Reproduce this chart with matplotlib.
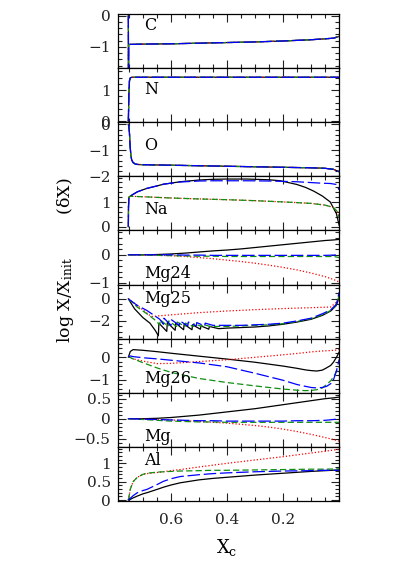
import matplotlib
matplotlib.use("Agg")
import matplotlib.pyplot as plt
from matplotlib.ticker import MultipleLocator, FixedLocator, FuncFormatter

plt.rcParams['font.family'] = ['DejaVu Serif']
plt.rcParams['mathtext.fontset'] = 'dejavuserif'

# ---------------- data ----------------
# C (all models overlap)
xc_C = [0.752, 0.7515, 0.751, 0.70, 0.60, 0.50, 0.40, 0.30, 0.20, 0.10, 0.05, 0.02, 0.0]
C_all = [0.0, -2.0, -0.92, -0.91, -0.90, -0.88, -0.86, -0.84, -0.81, -0.77, -0.74, -0.72, -0.66]

# N
xc_N = [0.752, 0.750, 0.748, 0.745, 0.74, 0.70, 0.50, 0.30, 0.10, 0.0]
N_all = [0.0, 0.9, 1.3, 1.39, 1.41, 1.41, 1.41, 1.41, 1.41, 1.41]

# O
xc_O = [0.752, 0.750, 0.748, 0.746, 0.743, 0.740, 0.735, 0.728, 0.72, 0.70, 0.60,
        0.50, 0.40, 0.30, 0.20, 0.10, 0.05, 0.02, 0.0]
O_all = [0.0, -0.1, -0.35, -0.8, -1.2, -1.38, -1.48, -1.53, -1.55, -1.56, -1.58,
         -1.60, -1.62, -1.64, -1.66, -1.68, -1.70, -1.74, -1.83]

# Na
xc_Na = [0.752, 0.7515, 0.75, 0.745, 0.72, 0.686, 0.65, 0.627, 0.567, 0.50, 0.449,
         0.40, 0.329, 0.25, 0.21, 0.151, 0.12, 0.091, 0.06, 0.032, 0.01, 0.0]
Na_black = [0.0, 0.8, 1.2, 1.25, 1.42, 1.56, 1.66, 1.73, 1.83, 1.90, 1.93,
            1.94, 1.94, 1.91, 1.87, 1.72, 1.60, 1.45, 1.25, 1.01, 0.54, 0.06]
Na_blue = [0.0, 0.8, 1.2, 1.25, 1.42, 1.56, 1.66, 1.73, 1.82, 1.86, 1.87,
           1.87, 1.87, 1.86, 1.85, 1.83, 1.81, 1.79, 1.77, 1.76, 1.72, 1.5]
xc_Na2 = [0.752, 0.7515, 0.75, 0.745, 0.70, 0.60, 0.50, 0.40, 0.30, 0.20, 0.10,
          0.05, 0.02, 0.005, 0.0]
Na_red = [0.0, 0.8, 1.2, 1.24, 1.22, 1.17, 1.13, 1.10, 1.06, 1.01, 0.95,
          0.88, 0.78, 0.6, 0.35]
Na_green = [0.0, 0.8, 1.2, 1.24, 1.22, 1.17, 1.13, 1.10, 1.06, 1.01, 0.95,
            0.88, 0.78, 0.6, 0.35]

# Mg24
xc_Mg24 = [0.752, 0.70, 0.65, 0.60, 0.55, 0.50, 0.45, 0.40, 0.35, 0.30, 0.25,
           0.20, 0.15, 0.10, 0.05, 0.02, 0.0]
Mg24_black = [0.0, 0.0, 0.01, 0.03, 0.06, 0.10, 0.14, 0.17, 0.21, 0.26, 0.31,
              0.36, 0.41, 0.46, 0.51, 0.53, 0.55]
Mg24_red = [0.0, -0.01, -0.02, -0.03, -0.06, -0.10, -0.14, -0.19, -0.24, -0.30, -0.37,
            -0.45, -0.54, -0.65, -0.78, -0.88, -0.97]
Mg24_blue = [0.0, 0.0, 0.0, 0.0, -0.01, -0.01, -0.02, -0.02, -0.02, -0.02, -0.02,
             -0.02, -0.02, -0.02, -0.02, -0.01, 0.0]
Mg24_green = [0.0, -0.01, -0.02, -0.03, -0.04, -0.05, -0.05, -0.06, -0.06, -0.06, -0.06,
              -0.06, -0.06, -0.06, -0.06, -0.06, -0.1]

# Mg25
xc_Mg25_black = [0.752, 0.73, 0.70, 0.675, 0.655, 0.645, 0.643, 0.615, 0.613, 0.585, 0.583,
                 0.555, 0.553, 0.525, 0.523, 0.495, 0.493, 0.465, 0.463, 0.43, 0.40,
                 0.35, 0.30, 0.25, 0.20, 0.15, 0.10, 0.06, 0.03, 0.01, 0.0]
Mg25_black = [0.0, -0.9, -1.7, -2.2, -2.9, -3.35, -2.2, -2.95, -2.15, -2.85, -2.2,
              -2.8, -2.3, -2.8, -2.35, -2.75, -2.45, -2.75, -2.5, -2.7, -2.65,
              -2.6, -2.55, -2.45, -2.3, -2.1, -1.85, -1.5, -1.1, -0.6, 0.2]
xc_Mg25_blue = [0.752, 0.72, 0.686, 0.66, 0.64, 0.627, 0.625, 0.60, 0.598, 0.57, 0.568,
                0.54, 0.538, 0.51, 0.508, 0.48, 0.478, 0.45, 0.40, 0.35, 0.30,
                0.25, 0.20, 0.15, 0.10, 0.06, 0.03, 0.01, 0.0]
Mg25_blue = [0.0, -0.6, -1.05, -1.5, -1.85, -2.3, -1.75, -2.4, -1.9, -2.4, -2.0,
             -2.45, -2.1, -2.45, -2.15, -2.45, -2.2, -2.4, -2.4, -2.4, -2.35,
             -2.3, -2.2, -2.0, -1.75, -1.35, -1.0, -0.5, 0.6]
xc_Mg25_green = [0.752, 0.72, 0.686, 0.66, 0.64, 0.638, 0.61, 0.608, 0.58, 0.578, 0.55,
                 0.548, 0.52, 0.518, 0.49, 0.488, 0.46, 0.40, 0.35, 0.30, 0.25,
                 0.20, 0.15, 0.10, 0.06, 0.03, 0.01, 0.0]
Mg25_green = [0.0, -0.75, -1.35, -1.85, -2.35, -1.9, -2.5, -2.0, -2.5, -2.1, -2.5,
              -2.2, -2.5, -2.25, -2.5, -2.3, -2.5, -2.5, -2.45, -2.4, -2.35,
              -2.25, -2.05, -1.8, -1.45, -1.05, -0.55, 0.3]
xc_Mg25_red = [0.752, 0.72, 0.70, 0.67, 0.60, 0.50, 0.40, 0.30, 0.20, 0.10, 0.03, 0.0]
Mg25_red = [0.0, -0.6, -1.0, -1.6, -1.45, -1.25, -1.1, -0.98, -0.88, -0.8, -0.74, -0.1]

# Mg26
xc_Mg26 = [0.752, 0.745, 0.735, 0.70, 0.65, 0.60, 0.50, 0.40, 0.30, 0.20, 0.15,
           0.12, 0.10, 0.08, 0.06, 0.045, 0.03, 0.02, 0.01, 0.0]
Mg26_black = [0.0, 0.25, 0.33, 0.30, 0.24, 0.17, 0.04, -0.09, -0.23, -0.40, -0.50,
              -0.57, -0.60, -0.62, -0.58, -0.48, -0.37, -0.22, -0.02, 0.22]
Mg26_red = [0.0, -0.03, -0.08, -0.18, -0.29, -0.28, -0.20, -0.12, -0.01, 0.10, 0.16,
            0.20, 0.23, 0.25, 0.27, 0.28, 0.29, 0.30, 0.31, 0.33]
Mg26_blue = [0.0, 0.05, 0.02, -0.03, -0.08, -0.14, -0.26, -0.43, -0.72, -1.03, -1.22,
             -1.30, -1.35, -1.37, -1.35, -1.30, -1.18, -1.0, -0.63, -0.11]
Mg26_green = [0.0, -0.02, -0.08, -0.25, -0.48, -0.68, -0.95, -1.13, -1.28, -1.42, -1.47,
              -1.49, -1.48, -1.45, -1.37, -1.22, -1.05, -0.88, -0.65, -0.41]

# Mg total
xc_Mg = [0.752, 0.70, 0.65, 0.60, 0.55, 0.50, 0.45, 0.40, 0.35, 0.30, 0.25,
         0.20, 0.15, 0.10, 0.05, 0.02, 0.0]
Mg_black = [0.0, 0.0, 0.01, 0.03, 0.06, 0.09, 0.13, 0.17, 0.21, 0.25, 0.30,
            0.35, 0.40, 0.45, 0.50, 0.52, 0.54]
Mg_red = [0.0, -0.01, -0.02, -0.03, -0.05, -0.07, -0.09, -0.11, -0.14, -0.17, -0.21,
          -0.26, -0.32, -0.39, -0.47, -0.52, -0.56]
Mg_blue = [0.0, -0.01, -0.02, -0.03, -0.04, -0.05, -0.05, -0.06, -0.06, -0.06, -0.06,
           -0.06, -0.05, -0.05, -0.04, -0.02, 0.0]
Mg_green = [0.0, -0.02, -0.04, -0.06, -0.07, -0.08, -0.08, -0.09, -0.09, -0.09, -0.09,
            -0.09, -0.09, -0.09, -0.09, -0.09, -0.09]

# Al
xc_Al = [0.752, 0.745, 0.735, 0.72, 0.70, 0.686, 0.65, 0.627, 0.60, 0.567, 0.50,
         0.45, 0.40, 0.30, 0.20, 0.10, 0.05, 0.0]
Al_red = [0.0, 0.3, 0.5, 0.62, 0.70, 0.72, 0.75, 0.77, 0.80, 0.83, 0.90,
          0.95, 1.0, 1.09, 1.18, 1.28, 1.33, 1.38]
Al_green = [0.0, 0.3, 0.5, 0.62, 0.70, 0.73, 0.76, 0.77, 0.78, 0.79, 0.80,
            0.81, 0.81, 0.82, 0.83, 0.84, 0.84, 0.85]
Al_blue = [0.0, 0.05, 0.12, 0.2, 0.26, 0.29, 0.42, 0.51, 0.58, 0.64, 0.69,
           0.72, 0.74, 0.77, 0.79, 0.80, 0.81, 0.81]
Al_black = [0.0, 0.02, 0.06, 0.11, 0.17, 0.20, 0.29, 0.35, 0.41, 0.47, 0.55,
            0.59, 0.62, 0.68, 0.73, 0.78, 0.80, 0.82]

panel_names = ["C", "N", "O", "Na", "Mg24", "Mg25", "Mg26", "Mg", "Al"]
x_ticks_major = [0.6, 0.4, 0.2]
x_tick_labels = ["0.6", "0.4", "0.2"]

# ---------------- styles ----------------
STY = {
    'black': dict(color='black', lw=0.9, ls='-'),
    'red': dict(color='red', lw=0.9, ls=(0, (1, 1.6))),
    'green': dict(color='#109010', lw=0.9, ls=(0, (5, 2.5))),
    'blue': dict(color='blue', lw=0.9, ls=(0, (10, 3))),
}

panels = [
    dict(lines=[('black', xc_C, C_all), ('red', xc_C, C_all), ('green', xc_C, C_all), ('blue', xc_C, C_all)],
         ylim=(-1.68, 0.05), major=[0, -1], minor=0.2, lab=0.78),
    dict(lines=[('black', xc_N, N_all), ('red', xc_N, N_all), ('green', xc_N, N_all), ('blue', xc_N, N_all)],
         ylim=(-0.03, 1.70), major=[0, 1], minor=0.2, lab=0.61),
    dict(lines=[('black', xc_O, O_all), ('red', xc_O, O_all), ('green', xc_O, O_all), ('blue', xc_O, O_all)],
         ylim=(-2.01, 0.08), major=[0, -1, -2], minor=0.2, lab=0.57),
    dict(lines=[('black', xc_Na, Na_black), ('red', xc_Na2, Na_red), ('green', xc_Na2, Na_green), ('blue', xc_Na, Na_blue)],
         ylim=(-0.15, 2.05), major=[0, 1], minor=0.2, lab=0.38),
    dict(lines=[('black', xc_Mg24, Mg24_black), ('red', xc_Mg24, Mg24_red), ('green', xc_Mg24, Mg24_green), ('blue', xc_Mg24, Mg24_blue)],
         ylim=(-1.06, 0.87), major=[0, -1], minor=0.2, lab=0.21),
    dict(lines=[('black', xc_Mg25_black, Mg25_black), ('red', xc_Mg25_red, Mg25_red), ('green', xc_Mg25_green, Mg25_green), ('blue', xc_Mg25_blue, Mg25_blue)],
         ylim=(-3.6, 1.3), major=[0, -2], minor=0.5, lab=0.74),
    dict(lines=[('black', xc_Mg26, Mg26_black), ('red', xc_Mg26, Mg26_red), ('green', xc_Mg26, Mg26_green), ('blue', xc_Mg26, Mg26_blue)],
         ylim=(-1.58, 0.82), major=[0, -1], minor=0.2, lab=0.27),
    dict(lines=[('black', xc_Mg, Mg_black), ('red', xc_Mg, Mg_red), ('green', xc_Mg, Mg_green), ('blue', xc_Mg, Mg_blue)],
         ylim=(-0.70, 0.65), major=[0.5, 0, -0.5], minor=0.1, lab=0.19),
    dict(lines=[('black', xc_Al, Al_black), ('red', xc_Al, Al_red), ('green', xc_Al, Al_green), ('blue', xc_Al, Al_blue)],
         ylim=(-0.02, 1.45), major=[0, 0.5, 1], minor=0.1, lab=0.75),
]


def fmt(v, pos):
    s = '%g' % round(v, 3)
    if s == '-0':
        s = '0'
    return s.replace('-', '\u2212')


fig, axes = plt.subplots(9, 1, sharex=True, figsize=(3.99, 5.64), dpi=100,
                         gridspec_kw=dict(hspace=0))
fig.subplots_adjust(left=0.295, right=0.850, top=0.975, bottom=0.112)

for ax, name, p in zip(axes, panel_names, panels):
    for col, xs, ys in p['lines']:
        ax.plot(xs, ys, **STY[col])
    ax.set_xlim(0.79, 0.0)
    ax.set_ylim(*p['ylim'])
    ax.yaxis.set_major_locator(FixedLocator(p['major']))
    ax.yaxis.set_minor_locator(MultipleLocator(p['minor']))
    ax.yaxis.set_major_formatter(FuncFormatter(fmt))
    ax.xaxis.set_major_locator(FixedLocator(x_ticks_major))
    ax.xaxis.set_minor_locator(MultipleLocator(0.05))
    ax.tick_params(which='both', direction='in', top=True, right=True, width=0.8,
                   labelsize=11, colors='#222222')
    ax.tick_params(which='major', length=6)
    ax.tick_params(which='minor', length=3)
    ax.tick_params(axis='y', pad=5)
    ax.tick_params(axis='x', pad=9)
    for s in ax.spines.values():
        s.set_linewidth(0.9)
    ax.text(0.697, p['lab'], name, transform=ax.get_xaxis_transform(),
            fontsize=11.5, ha='left', va='center')
    if ax is not axes[-1]:
        ax.tick_params(axis='x', labelbottom=False)

axes[-1].set_xticklabels(x_tick_labels)

fig.text(227 / 399, 1 - 547 / 564, r"X$_{\rm c}$", fontsize=13, ha='center', va='center')
fig.text(65 / 399, 1 - 260 / 564, r"log X/X$_{\rm init}$        (δX)", fontsize=12.5,
         rotation=90, ha='center', va='center')

fig.savefig("out.png", dpi=100)
